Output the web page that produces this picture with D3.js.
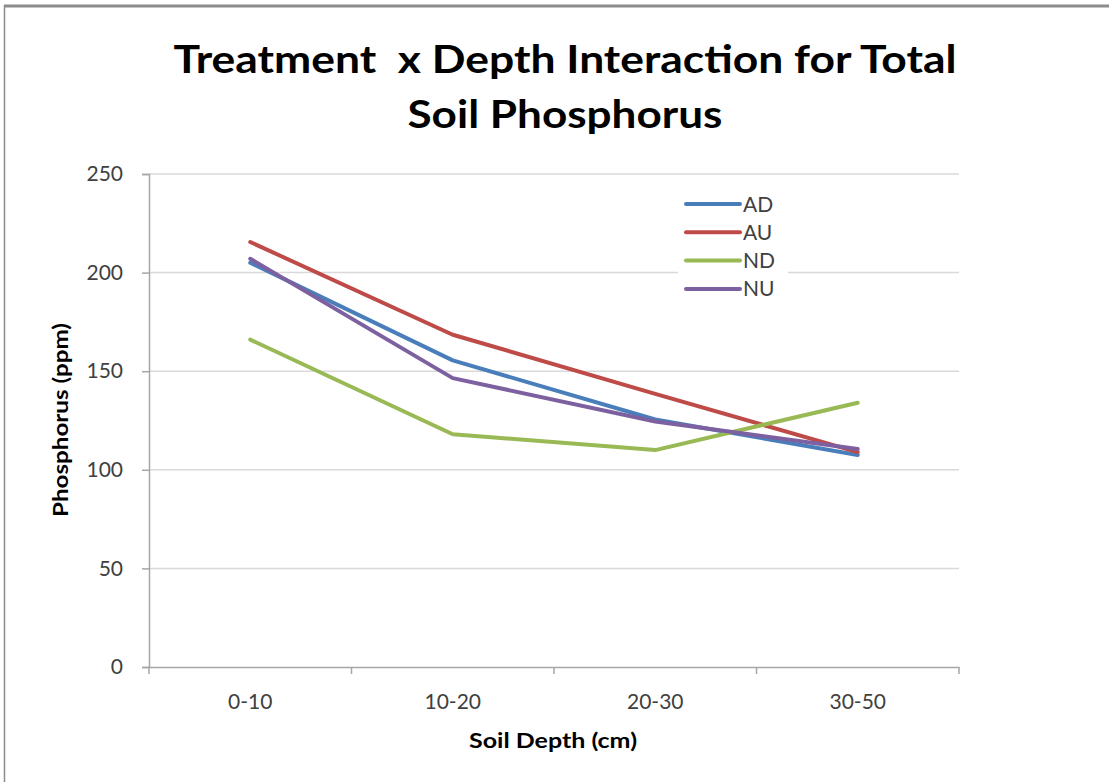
<!DOCTYPE html>
<html>
<head>
<meta charset="utf-8">
<script src="https://cdn.jsdelivr.net/npm/d3@7"></script>
<style>
  html, body { margin: 0; padding: 0; background: #fff; }
  svg { display: block; }
</style>
</head>
<body>
<svg id="chart" width="1109" height="782"></svg>
<script>
// Data
const depths = ['0-10', '10-20', '20-30', '30-50'];
const seriesNames = ['AD', 'AU', 'ND', 'NU'];
const AD = [205, 155.5, 125.5, 107.5];
const AU = [215.5, 168.5, 138.5, 109];
const ND = [166, 118, 110, 134];
const NU = [207, 146.5, 124.5, 110.5];
const yTicks = [0, 50, 100, 150, 200, 250];

const colors = ['#4A7EBB', '#BE4B48', '#98B954', '#7D60A0'];
const series = [AD, AU, ND, NU].map((vals, i) => ({ name: seriesNames[i], values: vals, color: colors[i] }));

const svg = d3.select('#chart');
const font = 'Lato, "Open Sans", sans-serif';

// outer chart border
svg.append('line').attr('x1', 4).attr('x2', 1109).attr('y1', 6).attr('y2', 6)
    .attr('stroke', '#8c8c8c').attr('stroke-width', 3);
svg.append('line').attr('x1', 4.5).attr('x2', 4.5).attr('y1', 5).attr('y2', 782)
    .attr('stroke', '#8c8c8c').attr('stroke-width', 1.5);

const plotLeft = 149, plotRight = 959, plotTop = 174, plotBottom = 667;

const x = d3.scaleBand().domain(depths).range([plotLeft, plotRight]);
const y = d3.scaleLinear().domain([0, 250]).range([plotBottom, plotTop]);

// gridlines
svg.append('g')
    .selectAll('line')
    .data(yTicks.filter(d => d > 0))
    .enter()
    .append('line')
    .attr('x1', plotLeft).attr('x2', plotRight)
    .attr('y1', d => y(d)).attr('y2', d => y(d))
    .attr('stroke', '#d9d9d9').attr('stroke-width', 1.5);

// y axis
const yAxis = svg.append('g')
    .attr('transform', `translate(${plotLeft},0)`)
    .call(d3.axisLeft(y).tickValues(yTicks).tickSize(7).tickPadding(19));
yAxis.select('.domain').attr('stroke', '#a6a6a6').attr('stroke-width', 1.5);
yAxis.selectAll('.tick line').attr('stroke', '#a6a6a6').attr('stroke-width', 1.5);
yAxis.selectAll('.tick text')
    .attr('fill', '#404040').attr('font-family', font).attr('font-size', 21);

// x axis
const xAxis = svg.append('g')
    .attr('transform', `translate(0,${plotBottom})`)
    .call(d3.axisBottom(x).tickSize(0).tickPadding(27));
xAxis.select('.domain').attr('stroke', '#a6a6a6').attr('stroke-width', 1.5);
xAxis.selectAll('.tick text')
    .attr('fill', '#404040').attr('font-family', font).attr('font-size', 21);
// tick marks between categories
xAxis.selectAll('.boundary')
    .data(d3.range(depths.length + 1))
    .enter()
    .append('line')
    .attr('x1', i => plotLeft + i * x.step()).attr('x2', i => plotLeft + i * x.step())
    .attr('y1', 0).attr('y2', 7)
    .attr('stroke', '#a6a6a6').attr('stroke-width', 1.5);

// lines
const line = d3.line()
    .x((d, i) => x(depths[i]) + x.bandwidth() / 2)
    .y(d => y(d));

svg.append('g')
    .selectAll('path')
    .data(series)
    .enter()
    .append('path')
    .attr('d', d => line(d.values))
    .attr('fill', 'none')
    .attr('stroke', d => d.color)
    .attr('stroke-width', 4)
    .attr('stroke-linejoin', 'round')
    .attr('stroke-linecap', 'round');

// legend
const legend = svg.append('g').attr('transform', 'translate(678,190)');
legend.append('rect').attr('x', 0).attr('y', 0).attr('width', 110).attr('height', 114).attr('fill', '#fff');
const item = legend.selectAll('.item')
    .data(series)
    .enter()
    .append('g')
    .attr('transform', (d, i) => `translate(0,${14 + i * 28.3})`);
item.append('line')
    .attr('x1', 8).attr('x2', 62).attr('y1', 0).attr('y2', 0)
    .attr('stroke', d => d.color).attr('stroke-width', 4).attr('stroke-linecap', 'round');
item.append('text')
    .attr('x', 65).attr('y', 7.5)
    .attr('font-family', font).attr('font-size', 21).attr('fill', '#404040')
    .text(d => d.name);

// title
const title = svg.append('text')
    .attr('text-anchor', 'middle')
    .attr('font-family', font).attr('font-weight', 'bold').attr('font-size', 39)
    .attr('fill', '#000');
title.append('tspan').attr('x', 565).attr('y', 73)
    .attr('textLength', 783).attr('lengthAdjust', 'spacingAndGlyphs')
    .text('Treatment\u00a0 x Depth Interaction for Total');
title.append('tspan').attr('x', 565).attr('y', 128)
    .attr('textLength', 315).attr('lengthAdjust', 'spacingAndGlyphs')
    .text('Soil Phosphorus');

// axis titles
svg.append('text')
    .attr('x', 553).attr('y', 748)
    .attr('text-anchor', 'middle')
    .attr('font-family', font).attr('font-weight', 'bold').attr('font-size', 21)
    .attr('textLength', 168).attr('lengthAdjust', 'spacingAndGlyphs')
    .text('Soil Depth (cm)');
svg.append('text')
    .attr('transform', 'translate(68,420) rotate(-90)')
    .attr('text-anchor', 'middle')
    .attr('font-family', font).attr('font-weight', 'bold').attr('font-size', 21)
    .attr('textLength', 194).attr('lengthAdjust', 'spacingAndGlyphs')
    .text('Phosphorus (ppm)');
</script>
</body>
</html>
